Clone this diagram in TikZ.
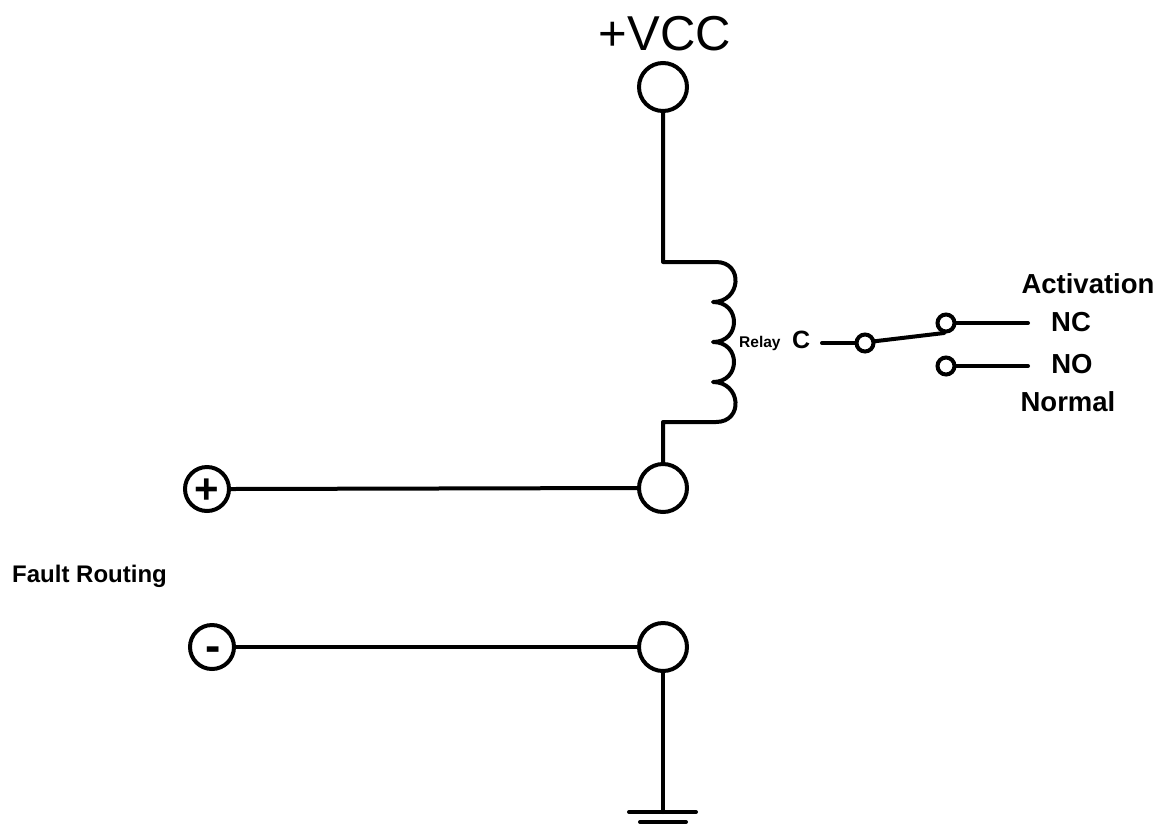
\documentclass[tikz,border=0pt]{standalone}
\usepackage{fontspec}
\setmainfont{Liberation Sans}
\begin{document}
\begin{tikzpicture}[x=1pt,y=-1pt,
  wire/.style={line width=4pt, line cap=round, line join=round},
  term/.style={circle, draw, line width=4pt, minimum size=48pt, inner sep=0pt, fill=white},
  pol/.style={circle, draw, line width=4pt, minimum size=44pt, inner sep=0pt, fill=white},
  contact/.style={circle, draw, line width=4pt, minimum size=17pt, inner sep=0pt, fill=white},
  lbl/.style={font=\bfseries\fontsize{27.5}{28}\selectfont, anchor=base, inner sep=0pt}]
\useasboundingbox (0,0) rectangle (1164,823);
\clip (0,0) rectangle (1164,823);
% nodes
\node[term] (vcc) at (663,87) {};
\node[font=\fontsize{49}{50}\selectfont, anchor=base, inner sep=0pt] (vcclbl) at (665,50) {+VCC};
\node[term] (r1) at (663,488) {};
\node[term] (r2) at (663,647) {};
\node[pol] (plus) at (207,489) {};
\node[pol] (minus) at (212,647) {};
\node[font=\bfseries\fontsize{42}{42}\selectfont, anchor=base, inner sep=0pt] (plussign) at (207,503) {+};
\node[font=\bfseries\fontsize{46}{46}\selectfont, anchor=base, inner sep=0pt] (minussign) at (213,661) {-};
\node[contact] (piv) at (865,343) {};
\node[contact] (nc) at (946,323) {};
\node[contact] (no) at (946,366) {};
% labels
\node[font=\bfseries\fontsize{15.5}{16}\selectfont, anchor=base west, inner sep=0pt] (relay) at (739,347) {Relay};
\node[font=\bfseries\fontsize{25}{26}\selectfont, anchor=base west, inner sep=0pt] (clbl) at (792,348) {C};
\node[lbl] (act) at (1088,293) {Activation};
\node[lbl] (nclbl) at (1071,331) {NC};
\node[lbl] (nolbl) at (1072,373) {NO};
\node[lbl] (norm) at (1068,411) {Normal};
\node[font=\bfseries\fontsize{24}{24}\selectfont, anchor=base west, inner sep=0pt] (fault) at (12,582) {Fault Routing};
% coordinates
\coordinate (ct) at (663,262);
\coordinate (cb) at (663,422);
\coordinate (cin) at (822,343);
\coordinate (arm) at (944,333);
\coordinate (ncend) at (1028,323);
\coordinate (noend) at (1028,366);
\coordinate (gnd) at (663,812);
% wiring
\draw[wire] (vcc.south) -- (ct) -- (716,262)
  .. controls (744,262) and (741,302) .. (713,302)
  .. controls (741,302) and (741,342) .. (713,342)
  .. controls (741,342) and (741,382) .. (713,382)
  .. controls (741,382) and (744,422) .. (716,422)
  -- (cb) -- (r1.north);
\draw[wire] (plus.east) -- (r1.west);
\draw[wire] (minus.east) -- (r2.west);
\draw[wire] (r2.south) -- (gnd);
\draw[wire] (629,812) -- (696,812);
\draw[wire] (640,822) -- (686,822);
\draw[wire] (cin) -- (piv.west);
\draw[wire] (piv.10) -- (arm);
\draw[wire] (nc.east) -- (ncend);
\draw[wire] (no.east) -- (noend);
\end{tikzpicture}
\end{document}
